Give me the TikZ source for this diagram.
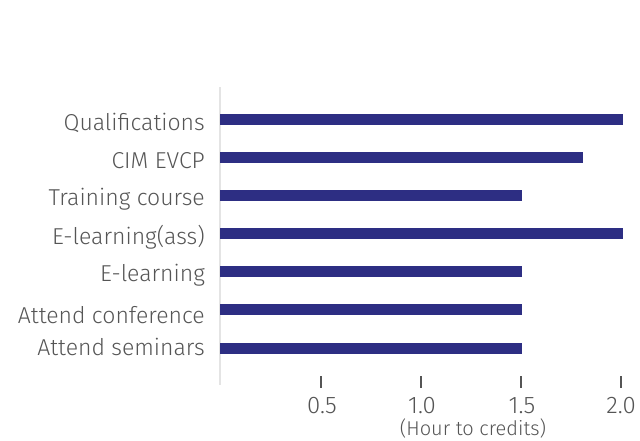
\documentclass[tikz,border=0pt]{standalone}
\usepackage{fontspec}
\setmainfont{Fira Sans}[UprightFont=* Light]
\usepackage{tikz}

\definecolor{barblue}{RGB}{45,46,131}
\definecolor{axisgray}{RGB}{228,228,228}
\definecolor{textgray}{RGB}{85,85,85}

\tikzset{
	cat/.style={anchor=east, inner sep=0pt, text=textgray, font=\fontsize{23}{26}\selectfont},
	val/.style={anchor=center, inner sep=0pt, text=textgray, font=\fontsize{24}{27}\selectfont},
	bar/.style={fill=barblue, draw=none},
	tick/.style={draw=textgray, line width=2pt}
}

\begin{document}
\begin{tikzpicture}[x=1pt, y=-1pt]
	\useasboundingbox (0,0) rectangle (640,441);
	
	\node (o) at (220,385) {};
	\node (t) at (220,87) {};
	\draw [axisgray, line width=2pt] (o.center) -- (t.center);
	
	\fill [bar] (220,114) rectangle (623,125);
	\fill [bar] (220,152) rectangle (583,163);
	\fill [bar] (220,190) rectangle (522,201);
	\fill [bar] (220,228) rectangle (623,239);
	\fill [bar] (220,266) rectangle (522,277);
	\fill [bar] (220,304) rectangle (522,315);
	\fill [bar] (220,343) rectangle (522,354);
	
	\node [cat] (c1) at (205,123) {Qualifications};
	\node [cat] (c2) at (205,161) {CIM EVCP};
	\node [cat] (c3) at (205,199) {Training course};
	\node [cat] (c4) at (205,237) {E-learning(ass)};
	\node [cat] (c5) at (205,275) {E-learning};
	\node [cat] (c6) at (205,315) {Attend conference};
	\node [cat] (c7) at (205,347) {Attend seminars};
	
	\draw [tick] (321,376) -- (321,388);
	\draw [tick] (421,376) -- (421,388);
	\draw [tick] (521,376) -- (521,388);
	\draw [tick] (621,376) -- (621,388);
	
	\node [val] (v1) at (322,406) {0.5};
	\node [val] (v2) at (422,406) {1.0};
	\node [val] (v3) at (522,406) {1.5};
	\node [val] (v4) at (621,406) {2.0};
	\node [val, font=\fontsize{20}{23}\selectfont] (xl) at (473,428) {(Hour to credits)};
\end{tikzpicture}
\end{document}
